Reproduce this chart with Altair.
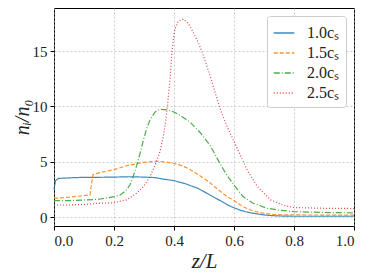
import altair as alt
import pandas as pd

# Series data
z_10 = [0, 0.005, 0.015, 0.05, 0.1, 0.15, 0.2, 0.25, 0.3, 0.34, 0.36, 0.38, 0.4, 0.42, 0.44,
        0.46, 0.48, 0.5, 0.52, 0.54, 0.56, 0.58, 0.6, 0.62, 0.64, 0.66, 0.68, 0.7, 0.73, 0.76, 0.8, 0.9, 1.0]
n_10 = [2.5, 3.3, 3.5, 3.55, 3.6, 3.6, 3.62, 3.65, 3.62, 3.57, 3.45, 3.38, 3.3, 3.15, 3.0,
        2.8, 2.6, 2.3, 2.0, 1.7, 1.4, 1.08, 0.85, 0.64, 0.48, 0.37, 0.28, 0.2, 0.13, 0.1, 0.08, 0.08, 0.08]

z_15 = [0, 0.05, 0.1, 0.12, 0.125, 0.13, 0.15, 0.2, 0.25, 0.3, 0.34, 0.37, 0.4, 0.42, 0.44,
        0.46, 0.48, 0.5, 0.52, 0.54, 0.56, 0.58, 0.6, 0.62, 0.64, 0.66, 0.68, 0.7, 0.73, 0.76, 0.8, 1.0]
n_15 = [1.7, 1.8, 1.95, 2.0, 3.0, 3.85, 4.0, 4.3, 4.7, 4.95, 5.05, 5.0, 4.85, 4.7, 4.5,
        4.2, 3.85, 3.5, 3.1, 2.65, 2.2, 1.8, 1.5, 1.12, 0.82, 0.6, 0.45, 0.35, 0.25, 0.21, 0.2, 0.18]

z_20 = [0, 0.05, 0.1, 0.15, 0.2, 0.22, 0.24, 0.253, 0.264, 0.276, 0.287, 0.298, 0.309, 0.32, 0.337,
        0.353, 0.376, 0.4, 0.42, 0.453, 0.487, 0.52, 0.553, 0.576, 0.6, 0.63, 0.664, 0.709, 0.753, 0.8, 0.9, 1.0]
n_20 = [1.5, 1.5, 1.55, 1.62, 1.85, 2.0, 2.4, 2.9, 3.66, 4.7, 5.77, 6.96, 8.0, 8.8, 9.5,
        9.75, 9.7, 9.5, 9.2, 8.6, 7.65, 6.5, 4.86, 3.8, 2.9, 1.86, 1.26, 0.81, 0.63, 0.5, 0.42, 0.39]

z_25 = [0, 0.05, 0.1, 0.153, 0.198, 0.242, 0.276, 0.298, 0.32, 0.337, 0.353, 0.364, 0.372, 0.378,
        0.387, 0.392, 0.398, 0.403, 0.414, 0.431, 0.448, 0.464, 0.481, 0.498, 0.52, 0.548, 0.556,
        0.58, 0.611, 0.644, 0.678, 0.722, 0.767, 0.8, 0.9, 1.0]
n_25 = [1.1, 1.1, 1.15, 1.26, 1.3, 1.56, 2.16, 2.76, 3.66, 4.7, 5.9, 7.26, 8.6, 10.0,
        12.5, 14.6, 16.1, 17.0, 17.7, 17.9, 17.5, 16.7, 15.8, 14.6, 12.8, 10.3, 9.6,
        8.0, 6.2, 4.26, 2.76, 1.56, 1.05, 0.87, 0.8, 0.78]

labels = ["1.0cₛ", "1.5cₛ", "2.0cₛ", "2.5cₛ"]
colors = ["#1f77b4", "#ff7f0e", "#2ca02c", "#d62728"]
dashes = [[1, 0], [4, 2], [6, 2, 1, 2], [1, 2]]

series = [(z_10, n_10), (z_15, n_15), (z_20, n_20), (z_25, n_25)]
rows = []
for lab, (zs, ns) in zip(labels, series):
    for i, (zz, nn) in enumerate(zip(zs, ns)):
        rows.append({"z": zz, "n": nn, "s": lab, "o": i})
df = pd.DataFrame(rows)

serif = "Liberation Serif"

chart = alt.Chart(df).mark_line(strokeWidth=1.2, opacity=0.85).encode(
    x=alt.X("z:Q", scale=alt.Scale(domain=[0, 1], nice=False),
            axis=alt.Axis(title="z/L", values=[0, 0.2, 0.4, 0.6, 0.8, 1.0], format=".1f")),
    y=alt.Y("n:Q", scale=alt.Scale(domain=[-0.8, 18.9], nice=False, zero=False),
            axis=alt.Axis(title="nᵢ/n₀", values=[0, 5, 10, 15])),
    color=alt.Color("s:N", scale=alt.Scale(domain=labels, range=colors),
                    legend=alt.Legend(title=None, orient="none", legendX=213, legendY=8,
                                      symbolType="stroke", symbolSize=420, symbolStrokeWidth=1.5,
                                      labelFont=serif, labelFontSize=16, labelColor="#222",
                                      labelOffset=12, rowPadding=1, padding=6,
                                      strokeColor="#cccccc", fillColor="white", cornerRadius=3)),
    strokeDash=alt.StrokeDash("s:N", scale=alt.Scale(domain=labels, range=dashes), legend=None),
    order="o:Q",
).properties(
    width=300, height=218,
    autosize=alt.AutoSizeParams(type="none"),
    padding={"left": 46, "top": 0, "right": 12, "bottom": 46},
).configure_view(
    stroke="black", strokeWidth=1
).configure_axis(
    grid=True, gridColor="#b0b0b0", gridDash=[2, 2], gridOpacity=0.8, gridWidth=0.8,
    domain=False, tickColor="black", tickSize=4, labelFont=serif, labelFontSize=15,
    labelColor="#222", titleFont=serif, titleFontWeight="normal", titleColor="#222",
    titleFontStyle="italic", labelPadding=3,
).configure_axisX(
    titleFontSize=21, titlePadding=2
).configure_axisY(
    titleFontSize=20, titlePadding=0
)

chart.save("out.html", embed_options={"renderer": "svg", "actions": False})
